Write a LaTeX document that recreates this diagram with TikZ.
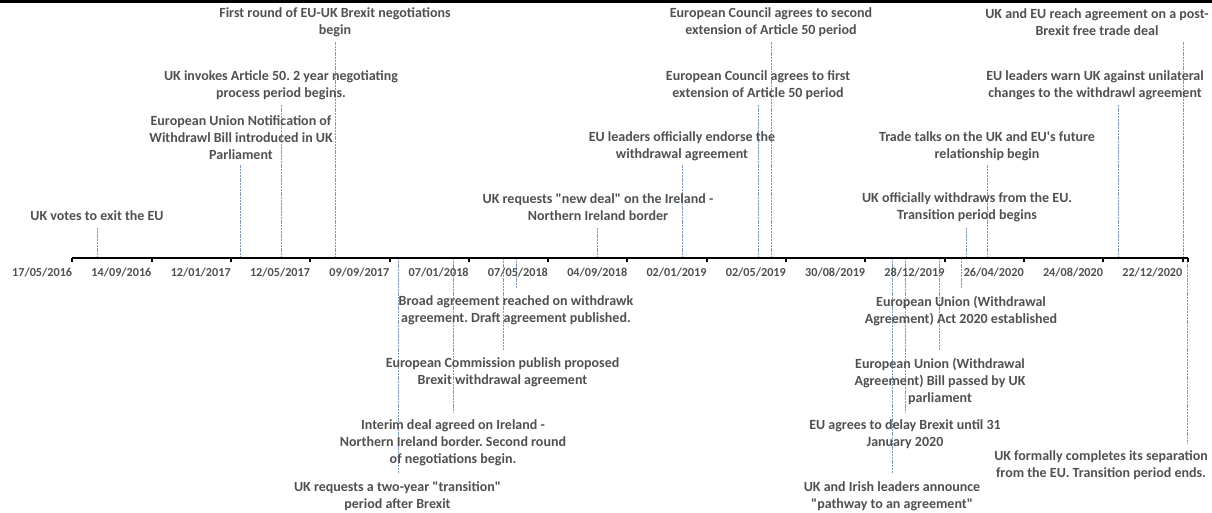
\documentclass[tikz,border=0pt]{standalone}
\usepackage{fontspec}
\setmainfont{Carlito}
\frenchspacing
\definecolor{txt}{RGB}{80,80,80}
\definecolor{evline}{RGB}{125,155,195}
\newcommand{\qq}{\textquotedbl}
\tikzset{
  evlabel/.style={font=\bfseries\fontsize{14}{17}\selectfont, text=txt, align=center, inner sep=0pt},
  datelabel/.style={font=\bfseries\fontsize{12.2}{17}\selectfont, text=txt, anchor=east, inner sep=0pt},
  evconn/.style={draw=evline, line width=0.8pt, dash pattern=on 2pt off 0.8pt},
  axisline/.style={draw=black, line width=2pt},
  axistick/.style={draw=black, line width=2pt}
}
\begin{document}
\begin{tikzpicture}[x=1pt,y=-1pt]
\useasboundingbox (0,0) rectangle (1212,513);
% top rule
\draw[line width=3pt] (0,1.5) -- (1212,1.5);
% axis
\coordinate (axL) at (72,258);
\coordinate (axR) at (1188,258);
% event coordinates: axis point (a) and free end (t)
\foreach \n/\x/\y in {1/97/228, 2/240/165, 3/281/105, 4/335/42, 5/597/228, 6/682/165, 7/758/105, 8/771/42, 9/966/228, 10/987/165, 11/1118/105, 12/1183/42,
  13/398/473, 14/453/413, 15/503/350, 16/516/288, 17/892/473, 18/905/413, 19/939/350, 20/961/288, 21/1187/443}{
  \coordinate (a\n) at (\x,258);
  \coordinate (t\n) at (\x,\y);
  \draw[evconn] (a\n) -- (t\n);
}
\draw[axisline] (axL) -- (axR);
% ticks and date labels
\foreach \k/\d in {0/17\slash 05\slash 2016, 1/14\slash 09\slash 2016, 2/12\slash 01\slash 2017, 3/12\slash 05\slash 2017, 4/09\slash 09\slash 2017, 5/07\slash 01\slash 2018, 6/07\slash 05\slash 2018, 7/04\slash 09\slash 2018, 8/02\slash 01\slash 2019, 9/02\slash 05\slash 2019, 10/30\slash 08\slash 2019, 11/28\slash 12\slash 2019, 12/26\slash 04\slash 2020, 13/24\slash 08\slash 2020, 14/22\slash 12\slash 2020}{
  \coordinate (k\k) at ({72.3+79.3*\k},258);
  \draw[axistick] (k\k) -- ++(0,4);
  \node[datelabel] (d\k) at ({72.3+79.3*\k},272) {\d};
}
\draw[axistick] (axR) -- ++(0,4);
% upper labels
\node[evlabel] (e1) at (97,216) {UK votes to exit the EU};
\node[evlabel] (e2) at (241,137.5) {European Union Notification of\\Withdrawl Bill introduced in UK\\Parliament};
\node[evlabel] (e3) at (281,85.5) {UK invokes Article 50. 2 year negotiating\\process period begins.};
\node[evlabel] (e4) at (335,22.5) {First round of EU-UK Brexit negotiations\\begin};
\node[evlabel] (e5) at (598,207.5) {UK requests \qq new deal\qq{} on the Ireland -\\Northern Ireland border};
\node[evlabel] (e6) at (682,146) {EU leaders officially endorse the\\withdrawal agreement};
\node[evlabel] (e7) at (758,85.5) {European Council agrees to first\\extension of Article 50 period};
\node[evlabel] (e8) at (771,22.5) {European Council agrees to second\\extension of Article 50 period};
\node[evlabel] (e9) at (967,207.5) {UK officially withdraws from the EU.\\Transition period begins};
\node[evlabel] (e10) at (987,146) {Trade talks on the UK and EU\textquotesingle s future\\relationship begin};
\node[evlabel] (e11) at (1095,85.5) {EU leaders warn UK against unilateral\\changes to the withdrawl agreement};
\node[evlabel] (e12) at (1097,22.5) {UK and EU reach agreement on a post-\\Brexit free trade deal};
% lower labels
\node[evlabel] (e13) at (397.5,496.5) {UK requests a two-year \qq transition\qq\\period after Brexit};
\node[evlabel] (e14) at (453,443) {Interim deal agreed on Ireland -\\Northern Ireland border. Second round\\of negotiations begin.};
\node[evlabel] (e15) at (502.5,372.5) {European Commission publish proposed\\Brexit withdrawal agreement};
\node[evlabel] (e16) at (516,310.5) {Broad agreement reached on withdrawk\\agreement. Draft agreement published.};
\node[evlabel] (e17) at (892,496.5) {UK and Irish leaders announce\\\qq pathway to an agreement\qq};
\node[evlabel] (e18) at (905,434.5) {EU agrees to delay Brexit until 31\\January 2020};
\node[evlabel] (e19) at (940,381) {European Union (Withdrawal\\Agreement) Bill passed by UK\\parliament};
\node[evlabel] (e20) at (961,310.5) {European Union (Withdrawal\\Agreement) Act 2020 established};
\node[evlabel] (e21) at (1101,465.5) {UK formally completes its separation\\from the EU. Transition period ends.};
\end{tikzpicture}
\end{document}
